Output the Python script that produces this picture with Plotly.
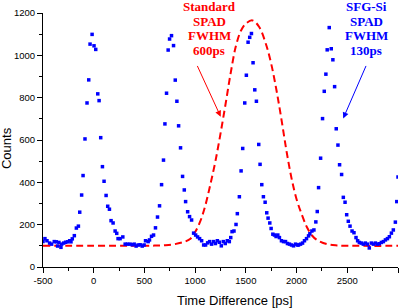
import plotly.graph_objects as go

# SFG-Si SPAD histogram (blue squares)
sfg_time = [-500, -481, -461, -435, -415, -389, -369, -356, -343, -323, -316, -296, -277, -257, -237, -224,
            -211, -191, -171, -151, -138, -119, -105, -86, -66, -49, -36, -16, 3, 20, 40, 53, 69, 86, 102,
            122, 138, 155, 171, 191, 211, 227, 240, 260, 287, 310, 333,
            359, 379, 399, 418, 438, 458, 478, 497, 511, 537, 550, 570, 590, 609, 629, 649, 669, 688, 702,
            718, 734, 748, 767, 787, 804, 820, 837, 856, 876, 893, 906, 926, 945, 965, 985, 1005, 1024,
            1044, 1064, 1084, 1103, 1123, 1143, 1162, 1182, 1200, 1219, 1239, 1258, 1278, 1297, 1317,
            1337, 1351, 1364, 1383, 1403, 1416, 1436, 1453, 1469, 1489, 1505, 1522, 1538, 1555, 1571,
            1588, 1604, 1627, 1640, 1657, 1673, 1690, 1706, 1719, 1736, 1749, 1766, 1782, 1798, 1815,
            1831, 1851, 1871, 1891, 1910, 1930, 1950, 1970, 1990, 2009, 2019, 2039, 2059, 2078, 2098,
            2118, 2131, 2151, 2171, 2190, 2204, 2217, 2237, 2256, 2273, 2289, 2302, 2322, 2342, 2358,
            2375, 2391, 2408, 2424, 2444, 2461, 2478, 2494, 2510, 2527, 2547, 2566, 2586, 2602, 2619,
            2638, 2658, 2678, 2698, 2717, 2737, 2757, 2777, 2797, 2816, 2836, 2856, 2876, 2896, 2915,
            2935, 2954, 2974, 2988, 3000]
sfg_counts = [120, 134, 124, 113, 108, 120, 119, 99, 116, 93, 108, 113, 117, 119, 124, 119,
              133, 148, 184, 193, 259, 340, 432, 605, 775, 884, 1053, 1099, 1045, 1028, 818, 786, 611, 474, 405,
              338, 287, 273, 219, 208, 170, 159, 134, 134, 142, 108, 108,
              108, 105, 108, 99, 104, 105, 99, 104, 124, 120, 128, 145, 151, 185, 236, 289, 389, 505, 676,
              821, 1025, 1077, 1093, 1046, 883, 783, 667, 563, 428, 364, 309, 261, 238, 222, 160, 151, 142,
              134, 124, 104, 104, 114, 120, 108, 120, 111, 124, 117, 100, 120, 111, 124,
              120, 139, 167, 170, 201, 252, 332, 454, 560, 775, 906, 1062, 1085, 1103, 965,
              837, 783, 579, 485, 389, 332, 306, 256, 231, 208, 182, 155, 151, 144, 151,
              139, 124, 120, 120, 111, 108, 104, 100, 108, 104, 104, 108, 113, 124, 134,
              147, 157, 170, 175, 213, 262, 375, 514, 701, 830, 911, 1026, 1131, 1031, 979,
              852, 653, 576, 483, 437, 329, 306, 247, 216, 193, 170, 162, 139, 124, 116,
              113, 108, 113, 108, 90, 113, 108, 113, 108, 110, 116, 120, 128, 134, 143,
              160, 175, 212, 309, 425]

# Standard SPAD response (red dashed curve)
std_time = [-500, 0, 400, 600, 700, 800, 900, 950, 1000, 1050, 1100, 1150, 1200, 1250, 1300, 1350,
            1400, 1450, 1500, 1565, 1630, 1700, 1750, 1800, 1850, 1900, 1950, 2000, 2050, 2100, 2150,
            2200, 2300, 2400, 2600, 3000]
std_counts = [100, 100, 100, 101, 103, 108, 120, 132, 165, 215, 290, 390, 500, 630, 770, 915,
              1040, 1115, 1150, 1165, 1135, 1050, 960, 840, 700, 550, 420, 320, 250, 190, 150,
              128, 108, 102, 100, 100]

x_tick_vals = [-500, 0, 500, 1000, 1500, 2000, 2500, 3000]
x_tick_labels = ["-500", "0", "500", "1000", "1500", "2000", "2500", "3000"]
y_tick_vals = [0, 200, 400, 600, 800, 1000, 1200]
y_tick_labels = ["0", "200", "400", "600", "800", "1000", "1200"]

red_lines = ["Standard", "SPAD", "FWHM", "600ps"]
blue_lines = ["SFG-Si", "SPAD", "FWHM", "130ps"]

SANS = "Liberation Sans, Arial, sans-serif"
SERIF = "Liberation Serif, Times New Roman, serif"

fig = go.Figure()
fig.add_trace(go.Scatter(x=std_time, y=std_counts, mode="lines",
                         line=dict(color="#FF0000", width=2, dash="7px,4px", shape="spline", smoothing=1.0),
                         hoverinfo="skip", showlegend=False))
fig.add_trace(go.Scatter(x=sfg_time, y=sfg_counts, mode="markers",
                         marker=dict(symbol="square", size=3.5, color="#0000FF", line=dict(width=0)),
                         showlegend=False))

annotations = []
# text line positions in paper fraction (plot area: 260 px tall)
line_y = [1.025, 0.968, 0.910, 0.852]
for txt, yy in zip(red_lines, line_y):
    annotations.append(dict(x=1141, y=yy, xref="x", yref="paper", text="<b>%s</b>" % txt, showarrow=False,
                            font=dict(family=SERIF, size=13, color="#FF0000"), xanchor="center", yanchor="middle"))
for txt, yy in zip(blue_lines, line_y):
    annotations.append(dict(x=2688, y=yy, xref="x", yref="paper", text="<b>%s</b>" % txt, showarrow=False,
                            font=dict(family=SERIF, size=13, color="#0000FF"), xanchor="center", yanchor="middle"))
# arrows
annotations.append(dict(x=1252, y=710, ax=1015, ay=957, xref="x", yref="y", axref="x", ayref="y", text="",
                        showarrow=True, arrowhead=2, arrowsize=1.2, arrowwidth=1, arrowcolor="#FF0000"))
annotations.append(dict(x=2460, y=702, ax=2691, ay=957, xref="x", yref="y", axref="x", ayref="y", text="",
                        showarrow=True, arrowhead=2, arrowsize=1.2, arrowwidth=1, arrowcolor="#0000FF"))
# axis titles
annotations.append(dict(x=0.541, y=-0.131, xref="paper", yref="paper", text="Time Difference [ps]",
                        showarrow=False, font=dict(family=SANS, size=13, color="black"),
                        xanchor="center", yanchor="middle"))
annotations.append(dict(x=-0.101, y=0.469, xref="paper", yref="paper", text="Counts", textangle=-90,
                        showarrow=False, font=dict(family=SANS, size=13, color="black"),
                        xanchor="center", yanchor="middle"))

fig.update_layout(
    width=408, height=308,
    margin=dict(l=43, r=10, t=7, b=41),
    paper_bgcolor="white", plot_bgcolor="white",
    annotations=annotations,
    showlegend=False,
)
fig.update_xaxes(range=[-500, 3000], tickvals=x_tick_vals, ticktext=x_tick_labels,
                 ticks="outside", ticklen=5, tickwidth=1, tickcolor="black",
                 showline=True, linecolor="black", linewidth=1, showgrid=False, zeroline=False,
                 minor=dict(dtick=250, tick0=-500, ticks="outside", ticklen=3, tickcolor="black", showgrid=False),
                 tickfont=dict(family=SANS, size=9.5, color="black"))
fig.update_yaxes(range=[0, 1200], tickvals=y_tick_vals, ticktext=y_tick_labels,
                 ticks="outside", ticklen=5, tickwidth=1, tickcolor="black",
                 showline=True, linecolor="black", linewidth=1, showgrid=False, zeroline=False,
                 minor=dict(dtick=100, tick0=0, ticks="outside", ticklen=3, tickcolor="black", showgrid=False),
                 tickfont=dict(family=SANS, size=9.5, color="black"))

fig.write_html("out.html", config={"displayModeBar": False},
               post_script="document.body.style.margin='0';document.body.style.overflow='hidden';")
